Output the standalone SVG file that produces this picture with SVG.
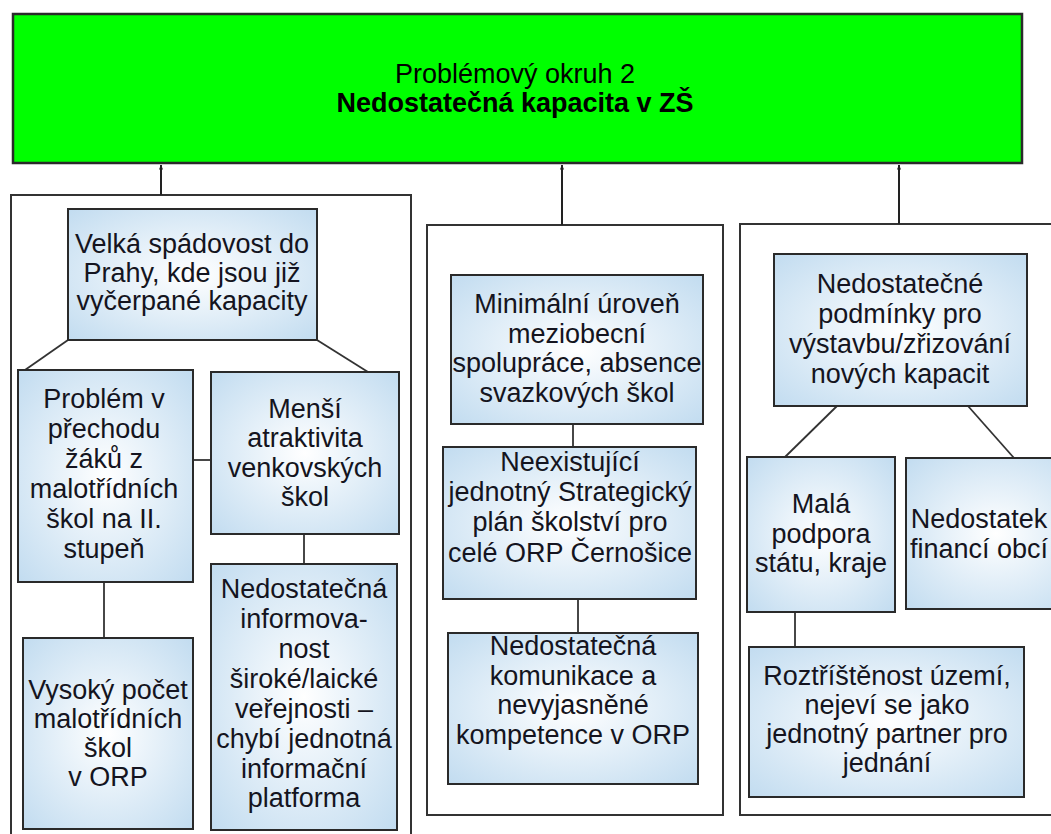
<svg xmlns="http://www.w3.org/2000/svg" width="1051" height="834" viewBox="0 0 1051 834">
<style>
.bg{fill:#ffffff}
.title{fill:#00ff00;stroke:#2a2a2a;stroke-width:2.5}
.panel{fill:#ffffff;stroke:#333333;stroke-width:2}
.box{fill:url(#bluegrad);stroke:#2a2a2a;stroke-width:2}
.t{font-family:"Liberation Sans",Arial,sans-serif;font-size:27px;fill:#141420;text-anchor:middle}
.tt{font-family:"Liberation Sans",Arial,sans-serif;font-size:27px;fill:#000000;text-anchor:middle}
.b{font-weight:bold}
.ln{stroke:#333333;stroke-width:1.8;fill:none}
.ar{stroke:#222222;stroke-width:2;fill:none;marker-end:url(#arr)}
</style>
<defs>
<radialGradient id="bluegrad" cx="50%" cy="50%" r="70%">
<stop offset="0%" stop-color="#ffffff"/>
<stop offset="100%" stop-color="#c2dcf0"/>
</radialGradient>
<marker id="arr" viewBox="0 0 10 10" refX="9" refY="5" markerWidth="5" markerHeight="5" orient="auto" markerUnits="userSpaceOnUse">
<path d="M0,1 L10,5 L0,9 z" fill="#222222"/>
</marker>
</defs>
<rect class="bg" x="0" y="0" width="1051" height="834"/>

<g id="title">
<rect class="title" x="13" y="14" width="1009" height="149"/>
<text class="tt" x="515" y="83">Problémový okruh 2</text>
<text class="tt b" x="515" y="112">Nedostatečná kapacita v ZŠ</text>
</g>

<g id="panel-left"><rect class="panel" x="11" y="195" width="400" height="650"/></g>
<g id="panel-middle"><rect class="panel" x="427" y="225" width="296" height="590"/></g>
<g id="panel-right"><rect class="panel" x="740" y="224" width="330" height="591"/></g>

<g id="connectors">
<line class="ar" x1="161" y1="195" x2="161" y2="165"/>
<line class="ar" x1="562" y1="225" x2="562" y2="165"/>
<line class="ar" x1="899" y1="224" x2="899" y2="165"/>
<line class="ln" x1="68" y1="340" x2="25" y2="370"/>
<line class="ln" x1="317" y1="340" x2="368" y2="372"/>
<line class="ln" x1="193" y1="460" x2="211" y2="460"/>
<line class="ln" x1="104" y1="582" x2="104" y2="638"/>
<line class="ln" x1="304" y1="534" x2="304" y2="564"/>
<line class="ln" x1="573" y1="424" x2="573" y2="447"/>
<line class="ln" x1="578" y1="599" x2="578" y2="633"/>
<line class="ln" x1="837" y1="406" x2="785" y2="457"/>
<line class="ln" x1="968" y1="406" x2="1014" y2="458"/>
<line class="ln" x1="795" y1="612" x2="795" y2="647"/>
</g>

<g id="n-velka">
<rect class="box" x="68" y="209" width="249" height="131"/>
<text class="t" x="192" y="253">Velká spádovost do</text>
<text class="t" x="192" y="282">Prahy, kde jsou již</text>
<text class="t" x="192" y="310">vyčerpané kapacity</text>
</g>

<g id="n-problem">
<rect class="box" x="18" y="370" width="175" height="212"/>
<text class="t" x="104" y="408">Problém v</text>
<text class="t" x="104" y="438">přechodu</text>
<text class="t" x="104" y="468">žáků z</text>
<text class="t" x="104" y="498">malotřídních</text>
<text class="t" x="104" y="528">škol na II.</text>
<text class="t" x="104" y="558">stupeň</text>
</g>

<g id="n-mensi">
<rect class="box" x="211" y="372" width="188" height="162"/>
<text class="t" x="305" y="418">Menší</text>
<text class="t" x="305" y="447">atraktivita</text>
<text class="t" x="305" y="477">venkovských</text>
<text class="t" x="305" y="506">škol</text>
</g>

<g id="n-vysoky">
<rect class="box" x="23" y="638" width="170" height="191"/>
<text class="t" x="108" y="699">Vysoký počet</text>
<text class="t" x="108" y="728">malotřídních</text>
<text class="t" x="108" y="757">škol</text>
<text class="t" x="108" y="786">v ORP</text>
</g>

<g id="n-informovanost">
<rect class="box" x="211" y="564" width="186" height="266"/>
<text class="t" x="304" y="598">Nedostatečná</text>
<text class="t" x="304" y="628">informova-</text>
<text class="t" x="304" y="658">nost</text>
<text class="t" x="304" y="688">široké/laické</text>
<text class="t" x="304" y="718">veřejnosti –</text>
<text class="t" x="304" y="748">chybí jednotná</text>
<text class="t" x="304" y="778">informační</text>
<text class="t" x="304" y="807">platforma</text>
</g>

<g id="n-minimalni">
<rect class="box" x="451" y="275" width="252" height="149"/>
<text class="t" x="577" y="313">Minimální úroveň</text>
<text class="t" x="577" y="343">meziobecní</text>
<text class="t" x="577" y="372">spolupráce, absence</text>
<text class="t" x="577" y="402">svazkových škol</text>
</g>

<g id="n-neexistujici">
<rect class="box" x="443" y="447" width="253" height="152"/>
<text class="t" x="570" y="471">Neexistující</text>
<text class="t" x="570" y="501">jednotný Strategický</text>
<text class="t" x="570" y="531">plán školství pro</text>
<text class="t" x="570" y="562">celé ORP Černošice</text>
</g>

<g id="n-komunikace">
<rect class="box" x="448" y="633" width="250" height="151"/>
<text class="t" x="573" y="655">Nedostatečná</text>
<text class="t" x="573" y="685">komunikace a</text>
<text class="t" x="573" y="714">nevyjasněné</text>
<text class="t" x="573" y="744">kompetence v ORP</text>
</g>

<g id="n-podminky">
<rect class="box" x="774" y="254" width="253" height="152"/>
<text class="t" x="900" y="293">Nedostatečné</text>
<text class="t" x="900" y="323">podmínky pro</text>
<text class="t" x="900" y="353">výstavbu/zřizování</text>
<text class="t" x="900" y="383">nových kapacit</text>
</g>

<g id="n-mala">
<rect class="box" x="747" y="457" width="148" height="155"/>
<text class="t" x="821" y="513">Malá</text>
<text class="t" x="821" y="543">podpora</text>
<text class="t" x="821" y="572">státu, kraje</text>
</g>

<g id="n-nedostatek">
<rect class="box" x="906" y="458" width="180" height="151"/>
<text class="t" x="979" y="528">Nedostatek</text>
<text class="t" x="979" y="558">financí obcí</text>
</g>

<g id="n-roztristenost">
<rect class="box" x="749" y="647" width="275" height="150"/>
<text class="t" x="887" y="685">Roztříštěnost území,</text>
<text class="t" x="887" y="714">nejeví se jako</text>
<text class="t" x="887" y="743">jednotný partner pro</text>
<text class="t" x="887" y="772">jednání</text>
</g>
</svg>
